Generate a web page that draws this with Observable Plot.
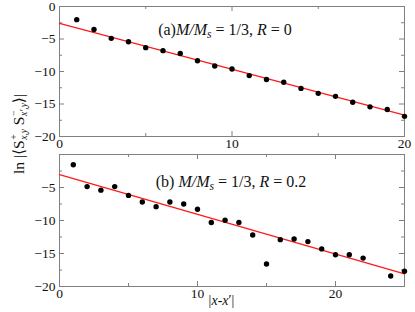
<!DOCTYPE html>
<html>
<head>
<meta charset="utf-8">
<script src="https://cdn.jsdelivr.net/npm/d3@7"></script>
<script src="https://cdn.jsdelivr.net/npm/@observablehq/plot@0.6"></script>
<style>
  html, body { margin: 0; padding: 0; background: #fff; }
  #wrap { position: relative; width: 415px; height: 312px; font-family: "Liberation Serif", "DejaVu Serif", serif; }
  #wrap svg { position: absolute; left: 0; }
  #ylab { position: absolute; left: 20px; top: 134px; transform: translate(-50%, -50%) rotate(-90deg); white-space: nowrap; font-size: 15.5px; color: #111; }
  .ss { display: inline-flex; flex-direction: column; vertical-align: middle; font-size: 9.5px; line-height: 1.05; margin-left: 0.5px; }
  .ss i { font-style: italic; }
</style>
</head>
<body>
<div id="wrap"></div>
<script>
// ---- data ----
const xA = [1,2,3,4,5,6,7,8,9,10,11,12,13,14,15,16,17,18,19,20];
const yA = [-2.02,-3.54,-4.9,-5.42,-6.33,-6.79,-7.24,-8.35,-9.16,-9.61,-10.63,-11.24,-11.65,-12.6,-13.36,-13.82,-14.73,-15.44,-15.84,-16.9];
const fitAx = [0, 20];
const fitAy = [-2.6, -16.7];

const xB = [1,2,3,4,5,6,7,8,9,10,11,12,13,14,15,16,17,18,19,20,21,22,24,25];
const yB = [-1.55,-4.86,-5.4,-4.86,-6.2,-7.2,-7.9,-7.2,-7.5,-8.3,-10.3,-9.97,-10.3,-12.2,-16.6,-12.9,-12.8,-13.2,-14.3,-15.2,-15.2,-15.7,-18.4,-17.7];
const fitBx = [0, 25];
const fitBy = [-3.05, -18.1];

const yMajor = [0,-5,-10,-15,-20];
const yMinor = [-2.5,-7.5,-12.5,-17.5];
const yLabelsA = [0,-5,-10,-15,-20];
const yLabelsB = [-5,-10,-15,-20];
const xMajorA = [0,10,20], xMinorA = [5,15], xLabelsA = [0,10,20];
const xMajorB = [0,10,20], xMinorB = [5,15,25], xLabelsB = [0,10,20];

const W = 415, ML = 59, MR = 11;
const frameC = "#808080";

function tickMarks(xMaj, xMin, H) {
  const PW = W - ML - MR;
  const g = (o) => Object.assign({stroke: frameC, strokeOpacity: 1, strokeWidth: 1}, o);
  return [
    Plot.gridX(g({ticks: xMaj, insetTop: H - 5})),
    Plot.gridX(g({ticks: xMaj, insetBottom: H - 5})),
    Plot.gridX(g({ticks: xMin, insetTop: H - 3})),
    Plot.gridX(g({ticks: xMin, insetBottom: H - 3})),
    Plot.gridY(g({ticks: yMajor, insetRight: PW - 5})),
    Plot.gridY(g({ticks: yMajor, insetLeft: PW - 5})),
    Plot.gridY(g({ticks: yMinor, insetRight: PW - 3})),
    Plot.gridY(g({ticks: yMinor, insetLeft: PW - 3}))
  ];
}

function panel({xs, ys, fx, fy, xdom, xMaj, xMin, xLab, yLab, height, mt, mb, note, dx, dy}) {
  const H = height - mt - mb;
  return Plot.plot({
    width: W, height, marginLeft: ML, marginRight: MR, marginTop: mt, marginBottom: mb,
    x: {domain: xdom, label: null},
    y: {domain: [-20, 0], label: null},
    style: {fontFamily: "'Liberation Serif', serif", fontSize: "13.5px", background: "transparent", overflow: "visible", color: "#111"},
    marks: [
      ...tickMarks(xMaj, xMin, H),
      Plot.frame({stroke: frameC, strokeWidth: 1}),
      Plot.axisX({ticks: xLab, tickSize: 0, tickPadding: 2, fontSize: 13.5, tickFormat: d3.format("d")}),
      Plot.axisY({ticks: yLab, tickSize: 0, tickPadding: 4, fontSize: 13.5, tickFormat: d3.format("d")}),
      Plot.line(fx.map((x, i) => ({x, y: fy[i]})), {x: "x", y: "y", stroke: "#ff1a1a", strokeWidth: 1.3}),
      Plot.dot(xs.map((x, i) => ({x, y: ys[i]})), {x: "x", y: "y", r: 2.7, fill: "#000", stroke: "none"}),
      Plot.text([note], {frameAnchor: "top", dx, dy, text: d => d, fontSize: 16, fill: "#111", fontFamily: "'Liberation Serif', serif"})
    ]
  });
}

function rich(textEl, parts, subSize) {
  textEl.textContent = "";
  const ns = "http://www.w3.org/2000/svg";
  let shift = 0;
  for (const p of parts) {
    const ts = document.createElementNS(ns, "tspan");
    ts.textContent = p.t;
    if (p.i) ts.setAttribute("font-style", "italic");
    const target = p.sub ? 3 : 0;
    if (target !== shift) { ts.setAttribute("dy", target - shift); shift = target; }
    if (p.sub) ts.setAttribute("font-size", subSize || "11.5");
    textEl.appendChild(ts);
  }
}

const wrap = document.getElementById("wrap");

const panelA = panel({xs: xA, ys: yA, fx: fitAx, fy: fitAy, xdom: [0, 20], xMaj: xMajorA, xMin: xMinorA, xLab: xLabelsA, yLab: yLabelsA,
  height: 150, mt: 6, mb: 14, note: "(a)M/Ms = 1/3, R = 0", dx: -7, dy: 17});
panelA.style.top = "0px";
wrap.appendChild(panelA);
rich(panelA.querySelector('g[aria-label="text"] text'), [
  {t: "(a)"}, {t: "M/M", i: 1}, {t: "s", i: 1, sub: 1}, {t: " = 1/3, "}, {t: "R", i: 1}, {t: " = 0"}
]);

const panelB = panel({xs: xB, ys: yB, fx: fitBx, fy: fitBy, xdom: [0, 25], xMaj: xMajorB, xMin: xMinorB, xLab: xLabelsB, yLab: yLabelsB,
  height: 164, mt: 6, mb: 26, note: "(b) M/Ms = 1/3, R = 0.2", dx: -1, dy: 21});
panelB.style.top = "148px";
wrap.appendChild(panelB);
rich(panelB.querySelector('g[aria-label="text"] text'), [
  {t: "(b) "}, {t: "M/M", i: 1}, {t: "s", i: 1, sub: 1}, {t: " = 1/3, "}, {t: "R", i: 1}, {t: " = 0.2"}
]);

// x label as text in the bottom panel
const ns = "http://www.w3.org/2000/svg";
const xl = document.createElementNS(ns, "text");
xl.setAttribute("x", (ML + (W - ML - MR) / 2) - 10);
xl.setAttribute("y", 164 - 26 + 19);
xl.setAttribute("text-anchor", "middle");
xl.setAttribute("font-family", "'Liberation Serif', serif");
xl.setAttribute("font-size", "14");
xl.setAttribute("fill", "#111");
panelB.appendChild(xl);
rich(xl, [{t: "|"}, {t: "x", i: 1}, {t: "-"}, {t: "x", i: 1}, {t: "′|"}]);

// y label
const yl = document.createElement("div");
yl.id = "ylab";
yl.innerHTML = 'ln |⟨S<span class="ss"><span>+</span><i>x,y</i></span> S<span class="ss"><span>−</span><i>x′,y</i></span>⟩|';
wrap.appendChild(yl);
</script>
</body>
</html>
